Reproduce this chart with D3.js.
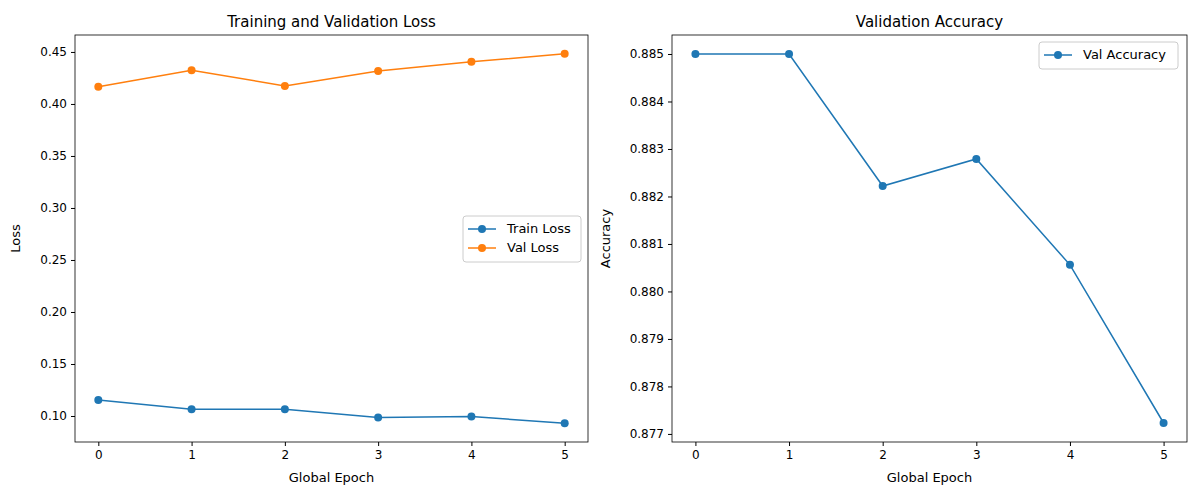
<!DOCTYPE html>
<html>
<head>
<meta charset="utf-8">
<script src="https://cdn.jsdelivr.net/npm/d3@7"></script>
<style>
  body { margin: 0; background: #fff; }
  text { font-family: "DejaVu Sans", sans-serif; }
</style>
</head>
<body>
<svg id="chart" width="1200" height="500"></svg>
<script>
// data
var epochs = [0, 1, 2, 3, 4, 5];
var trainLoss = [0.1154, 0.1065, 0.1065, 0.0985, 0.0995, 0.0930];
var valLoss = [0.4165, 0.4325, 0.4173, 0.4317, 0.4405, 0.4482];
var valAcc = [0.8850, 0.8850, 0.88222, 0.88279, 0.88056, 0.87723];
var lossTicks = [0.10, 0.15, 0.20, 0.25, 0.30, 0.35, 0.40, 0.45];
var accTicks = [0.877, 0.878, 0.879, 0.880, 0.881, 0.882, 0.883, 0.884, 0.885];

var BLUE = "#1f77b4", ORANGE = "#ff7f0e";
var svg = d3.select("#chart");

function panel(opts) {
    var x = d3.scaleLinear().domain([-0.25, 5.25]).range([opts.left, opts.right]);
    var y = d3.scaleLinear().domain(opts.yDomain).range([opts.bottom, opts.top]);
    var g = svg.append("g");

    g.append("g").attr("transform", "translate(0," + opts.bottom + ")")
        .call(d3.axisBottom(x).tickValues(epochs).tickSize(4).tickPadding(4).tickFormat(d3.format("d")))
        .call(function(a) { a.select(".domain").remove(); a.selectAll("text").attr("font-size", 12).attr("fill", "#000"); });
    g.append("g").attr("transform", "translate(" + opts.left + ",0)")
        .call(d3.axisLeft(y).tickValues(opts.ticks).tickSize(4).tickPadding(4).tickFormat(d3.format(opts.fmt)))
        .call(function(a) { a.select(".domain").remove(); a.selectAll("text").attr("font-size", 12).attr("fill", "#000"); });

    g.append("rect").attr("x", opts.left).attr("y", opts.top)
        .attr("width", opts.right - opts.left).attr("height", opts.bottom - opts.top)
        .attr("fill", "none").attr("stroke", "#000").attr("stroke-width", 0.8);

    opts.series.forEach(function(s) {
        var line = d3.line().x(function(d, i) { return x(epochs[i]); }).y(function(d) { return y(d); });
        g.append("path").datum(s.values).attr("d", line).attr("fill", "none")
            .attr("stroke", s.color).attr("stroke-width", 1.5);
        g.selectAll(null).data(s.values).enter().append("circle")
            .attr("cx", function(d, i) { return x(epochs[i]); })
            .attr("cy", function(d) { return y(d); })
            .attr("r", 4).attr("fill", s.color);
    });

    g.append("text").attr("x", (opts.left + opts.right) / 2).attr("y", opts.top - 8)
        .attr("text-anchor", "middle").attr("font-size", 15).text(opts.title);
    g.append("text").attr("x", (opts.left + opts.right) / 2).attr("y", opts.bottom + 40)
        .attr("text-anchor", "middle").attr("font-size", 13).text("Global Epoch");
    g.append("text").attr("transform", "translate(" + (opts.left - opts.ylabOff) + "," + ((opts.top + opts.bottom) / 2) + ") rotate(-90)")
        .attr("text-anchor", "middle").attr("font-size", 13).text(opts.ylabel);

    // legend
    var lg = g.append("g").attr("transform", "translate(" + opts.legend[0] + "," + opts.legend[1] + ")");
    lg.append("rect").attr("width", opts.legend[2]).attr("height", 8 + 19 * opts.series.length)
        .attr("rx", 3).attr("fill", "#fff").attr("fill-opacity", 0.8).attr("stroke", "#ccc");
    opts.series.forEach(function(s, i) {
        var yy = 13 + i * 19;
        lg.append("line").attr("x1", 5).attr("x2", 33).attr("y1", yy).attr("y2", yy)
            .attr("stroke", s.color).attr("stroke-width", 1.5);
        lg.append("circle").attr("cx", 19).attr("cy", yy).attr("r", 4).attr("fill", s.color);
        lg.append("text").attr("x", 44).attr("y", yy + 4).attr("font-size", 13).text(s.name);
    });
}

panel({
    left: 75, right: 588, top: 35, bottom: 442,
    yDomain: [0.075, 0.4663], ticks: lossTicks, fmt: ".2f",
    title: "Training and Validation Loss", ylabel: "Loss", ylabOff: 55,
    legend: [463, 216, 118],
    series: [
        { name: "Train Loss", values: trainLoss, color: BLUE },
        { name: "Val Loss", values: valLoss, color: ORANGE }
    ]
});

panel({
    left: 672, right: 1187, top: 35, bottom: 442,
    yDomain: [0.87683, 0.8854], ticks: accTicks, fmt: ".3f",
    title: "Validation Accuracy", ylabel: "Accuracy", ylabOff: 62,
    legend: [1039, 42, 139],
    series: [
        { name: "Val Accuracy", values: valAcc, color: BLUE }
    ]
});
</script>
</body>
</html>
